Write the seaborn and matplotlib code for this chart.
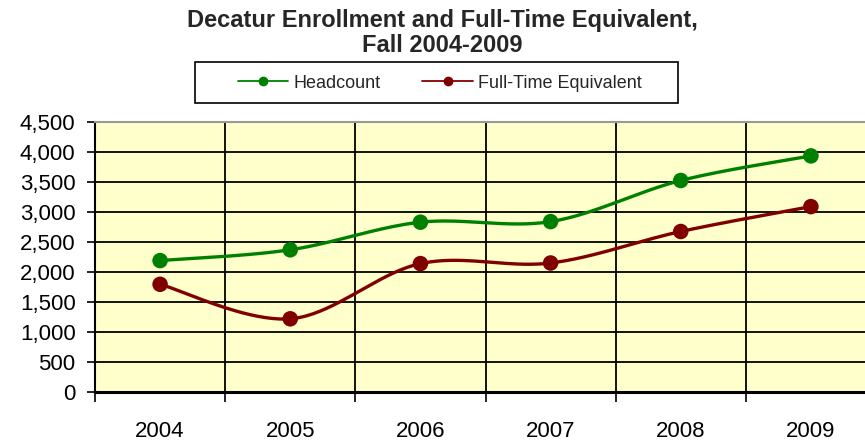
import numpy as np
import pandas as pd
import matplotlib
matplotlib.use("Agg")
import matplotlib.pyplot as plt
import seaborn as sns
from matplotlib.lines import Line2D
from matplotlib.patches import Rectangle
from matplotlib.ticker import FuncFormatter, FixedLocator

years = ["2004", "2005", "2006", "2007", "2008", "2009"]
headcount = [2190, 2370, 2830, 2840, 3525, 3935]
fte = [1795, 1220, 2140, 2150, 2675, 3090]
series_names = ["Headcount", "Full-Time Equivalent"]
y_ticks = [0, 500, 1000, 1500, 2000, 2500, 3000, 3500, 4000, 4500]
title = "Decatur Enrollment and Full-Time Equivalent,\nFall 2004-2009"

sns.set_theme(style="white")
plt.rcParams["font.family"] = ["Liberation Sans", "DejaVu Sans"]

GREEN = "#008000"
RED = "#800000"
colors = [GREEN, RED]

df = pd.DataFrame({
    "x": list(range(len(years))) * 2,
    "value": headcount + fte,
    "series": [series_names[0]] * len(years) + [series_names[1]] * len(years),
})


def smooth(xs, ys, n=40):
    # Excel-style smoothing: cubic Bezier with Catmull-Rom control points
    xs = np.asarray(xs, float)
    ys = np.asarray(ys, float)
    P = np.column_stack([xs, ys])
    out = []
    t = np.linspace(0, 1, n)
    for i in range(len(P) - 1):
        p0 = P[i - 1] if i > 0 else P[i]
        p1 = P[i]
        p2 = P[i + 1]
        p3 = P[i + 2] if i + 2 < len(P) else P[i + 1]
        c1 = p1 + (p2 - p0) / 6.0
        c2 = p2 - (p3 - p1) / 6.0
        seg = ((1 - t) ** 3)[:, None] * p1 + (3 * (1 - t) ** 2 * t)[:, None] * c1 \
            + (3 * (1 - t) * t ** 2)[:, None] * c2 + (t ** 3)[:, None] * p2
        out.append(seg if i == 0 else seg[1:])
    s = np.vstack(out)
    return s[:, 0], s[:, 1]


W, H = 865, 441
fig = plt.figure(figsize=(W / 100, H / 100), dpi=100)
ax = fig.add_axes([95 / W, 49 / H, 781 / W, 270 / H])
ax.set_facecolor("#FFFFCC")

for name, col in zip(series_names, colors):
    sub = df[df["series"] == name]
    sx, sy = smooth(sub["x"], sub["value"])
    ax.plot(sx, sy, color=col, lw=2.4, solid_capstyle="round", zorder=3)

sns.scatterplot(data=df, x="x", y="value", hue="series", palette=colors,
                s=125, edgecolor="none", legend=False, ax=ax, zorder=4)

ax.set_xlim(-0.5, len(years) - 0.5)
ax.set_ylim(0, 4500)
ax.set_xlabel("")
ax.set_ylabel("")

# y axis
ax.yaxis.set_major_locator(FixedLocator(y_ticks))
ax.yaxis.set_major_formatter(FuncFormatter(lambda v, p: f"{int(v):,}"))
ax.tick_params(axis="y", which="major", left=True, length=6, width=1.2,
               color="black", direction="out", labelsize=16, pad=8,
               labelcolor="black")

# x axis: labels at centers, ticks at boundaries
ax.set_xticks(range(len(years)))
ax.set_xticklabels(years)
ax.tick_params(axis="x", which="major", bottom=False, length=0,
               labelsize=16, pad=21, labelcolor="black")
ax.set_xticks(np.arange(-0.5, len(years) - 0.5 + 1), minor=True)
ax.tick_params(axis="x", which="minor", bottom=True, length=7, width=1.2,
               color="black", direction="out")

# grid
ax.grid(False)
for yv in y_ticks[1:]:
    ax.axhline(yv, color="black", lw=1.3, zorder=1)
for xv in np.arange(0.5, len(years) - 0.5):
    ax.axvline(xv, color="black", lw=1.3, zorder=1)

ax.spines["right"].set_visible(False)
ax.spines["top"].set_color("#999999")
ax.spines["top"].set_linewidth(1.5)
ax.spines["left"].set_color("black")
ax.spines["left"].set_linewidth(1.5)
ax.spines["bottom"].set_color("black")
ax.spines["bottom"].set_linewidth(2.2)

fig.text(442 / W, 1 - 9 / H, title, ha="center", va="top", fontsize=17,
         fontweight="bold", linespacing=1.12)

# legend box
fig.patches.append(Rectangle((195 / W, 1 - 103 / H), 483 / W, 41 / H,
                             transform=fig.transFigure, fill=False,
                             edgecolor="black", lw=1.2, zorder=5))
handles = [Line2D([0], [0], color=c, lw=1.3, marker="o", markersize=6,
                  markeredgecolor=c) for c in colors]
leg = fig.legend(handles, series_names, loc="center",
                 bbox_to_anchor=(440 / W, 1 - 83 / H), ncol=2,
                 frameon=False, fontsize=13,
                 handlelength=2.8, columnspacing=2.3, handletextpad=0.3,
                 borderpad=0.2, borderaxespad=0)

fig.savefig("out.png", dpi=100)
